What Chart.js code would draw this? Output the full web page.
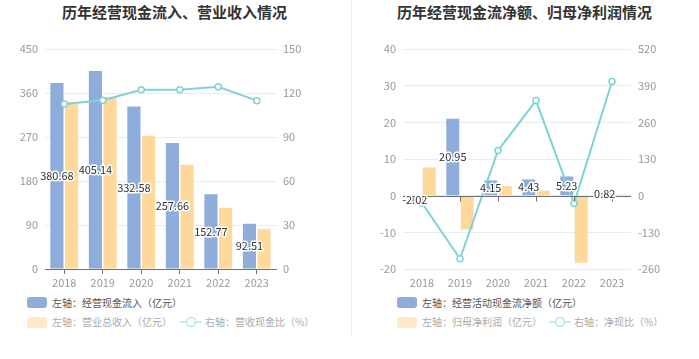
<!DOCTYPE html>
<html>
<head>
<meta charset="utf-8">
<script src="https://cdn.jsdelivr.net/npm/chart.js@4/dist/chart.umd.min.js"></script>
<style>
  body { margin: 0; background: #fff; font-family: "Noto Sans CJK SC", sans-serif; }
  #wrap { position: relative; width: 699px; height: 359px; overflow: hidden; }
  canvas { position: absolute; top: 0; }
  .title { position: absolute; top: 1px; width: 349px; text-align: center; font-size: 15px; font-weight: bold; color: #333; }
  .divider { position: absolute; left: 351px; top: 0; width: 1px; height: 336px; background: #f0f0f0; }
  .lg { position: absolute; font-size: 10px; color: #555; line-height: 14px; white-space: nowrap; }
  .lg.off { color: #aaa; }
  .box { position: absolute; width: 20px; height: 11px; border-radius: 3px; }
</style>
</head>
<body>
<div id="wrap">
  <div class="title" style="left:0">历年经营现金流入、营业收入情况</div>
  <div class="title" style="left:350px">历年经营现金流净额、归母净利润情况</div>
  <div class="divider"></div>
  <canvas id="c1" width="349" height="290" style="left:0"></canvas>
  <canvas id="c2" width="349" height="290" style="left:350px"></canvas>

  <div class="box" style="left:27px;top:297px;background:#8eaddb"></div>
  <div class="lg" style="left:52px;top:296px">左轴：经营现金流入（亿元）</div>
  <div class="box" style="left:27px;top:317px;background:#ffe9c9"></div>
  <div class="lg off" style="left:52px;top:315px">左轴：营业总收入（亿元）</div>
  <svg style="position:absolute;left:180px;top:316px" width="22" height="12"><line x1="0" y1="6" x2="22" y2="6" stroke="#b4e6e9" stroke-width="1.5"/><circle cx="11" cy="6" r="4.5" fill="#fff" stroke="#b4e6e9" stroke-width="1.5"/></svg>
  <div class="lg off" style="left:205px;top:315px">右轴：营收现金比（%）</div>

  <div class="box" style="left:397px;top:297px;background:#8eaddb"></div>
  <div class="lg" style="left:422px;top:296px">左轴：经营活动现金流净额（亿元）</div>
  <div class="box" style="left:397px;top:317px;background:#ffe9c9"></div>
  <div class="lg off" style="left:422px;top:315px">左轴：归母净利润（亿元）</div>
  <svg style="position:absolute;left:549px;top:316px" width="22" height="12"><line x1="0" y1="6" x2="22" y2="6" stroke="#b4e6e9" stroke-width="1.5"/><circle cx="11" cy="6" r="4.5" fill="#fff" stroke="#b4e6e9" stroke-width="1.5"/></svg>
  <div class="lg off" style="left:574px;top:315px">右轴：净现比（%）</div>
</div>
<script>
// data
var years = ['2018', '2019', '2020', '2021', '2022', '2023'];
var cashInflow = [380.68, 405.14, 332.58, 257.66, 152.77, 92.51];
var revenue = [340.8, 351.8, 272.6, 213, 125, 81.8];
var cashRatio = [112.5, 115, 122.2, 122.3, 124.2, 114.8];

var opCashNet = [-2.02, 20.95, 4.15, 4.43, 5.23, 0.82];
var netProfit = [7.7, -9.2, 2.6, 1.4, -18.3, 0.3];
var netCashRatio = [-26, -224, 160, 337, -28, 405];

var BLUE = '#8eaddb', YELLOW = '#ffd89b', CYAN = '#7dd3d8';
var GRID = '#e6ebf5', TICK = '#999', AXIS = '#6e7079';

Chart.defaults.font.family = '"Noto Sans CJK SC", sans-serif';
Chart.defaults.font.size = 11;

// value labels in the middle of the first (blue) bar series
var barLabels = {
    id: 'barLabels',
    afterDatasetsDraw: function(chart){
        var ctx = chart.ctx;
        var meta = chart.getDatasetMeta(0);
        var vals = chart.data.datasets[0].data;
        ctx.save();
        ctx.font = '11px "Noto Sans CJK SC", sans-serif';
        ctx.textAlign = 'center';
        ctx.textBaseline = 'middle';
        ctx.lineJoin = 'round';
        ctx.lineWidth = 3;
        ctx.strokeStyle = '#fff';
        ctx.fillStyle = '#333';
        meta.data.forEach(function(bar, i){
            var y = (bar.y + bar.base) / 2;
            var txt = vals[i].toFixed(2);
            ctx.strokeText(txt, bar.x, y);
            ctx.fillText(txt, bar.x, y);
        });
        ctx.restore();
    }
};

// axis line at zero for the second chart
var zeroLine = {
    id: 'zeroLine',
    afterDatasetsDraw: function(chart){
        var ctx = chart.ctx, area = chart.chartArea;
        var y0 = Math.round(chart.scales.y.getPixelForValue(0)) + 0.5;
        ctx.save();
        ctx.strokeStyle = AXIS;
        ctx.lineWidth = 1;
        ctx.beginPath();
        ctx.moveTo(area.left, y0);
        ctx.lineTo(area.right, y0);
        chart.scales.x.ticks.forEach(function(t, i){
            var x = Math.round(chart.scales.x.getPixelForTick(i)) + 0.5;
            ctx.moveTo(x, y0);
            ctx.lineTo(x, y0 + 5);
        });
        ctx.stroke();
        ctx.restore();
    }
};

function makeChart(id, bars1, bars2, line, yOpts, y1Opts, widths, zero){
    var plugins = zero ? [zeroLine, barLabels] : [barLabels];
    return new Chart(document.getElementById(id), {
        type: 'bar',
        data: {
            labels: years,
            datasets: [
                { data: bars1, backgroundColor: BLUE, yAxisID: 'y', order: 2,
                  categoryPercentage: 0.76, barPercentage: 0.9 },
                { data: bars2, backgroundColor: YELLOW, yAxisID: 'y', order: 3,
                  categoryPercentage: 0.76, barPercentage: 0.9 },
                { type: 'line', data: line, yAxisID: 'y1', order: 1,
                  borderColor: CYAN, borderWidth: 2, pointRadius: 3,
                  pointBackgroundColor: '#fff', pointBorderColor: CYAN, pointBorderWidth: 1.5,
                  tension: 0 }
            ]
        },
        options: {
            responsive: false,
            animation: false,
            layout: { padding: { top: 49, left: 0, right: 0, bottom: 0 } },
            plugins: { legend: { display: false }, tooltip: { enabled: false } },
            scales: {
                x: {
                    offset: true,
                    grid: { display: true, drawOnChartArea: false, drawTicks: true, tickLength: 5,
                            offset: false, color: zero ? 'rgba(0,0,0,0)' : AXIS },
                    border: { display: !zero, color: AXIS },
                    ticks: { color: TICK, padding: 2 },
                    afterFit: function(s){ s.height = 21; }
                },
                y: {
                    position: 'left',
                    min: yOpts.min, max: yOpts.max,
                    grid: { color: GRID, drawTicks: false },
                    border: { display: false },
                    ticks: { stepSize: yOpts.step, color: TICK, padding: 7 },
                    afterFit: function(s){ s.width = widths[0]; }
                },
                y1: {
                    position: 'right',
                    min: y1Opts.min, max: y1Opts.max,
                    grid: { drawOnChartArea: false, drawTicks: false },
                    border: { display: false },
                    ticks: { stepSize: y1Opts.step, color: TICK, padding: 7 },
                    afterFit: function(s){ s.width = widths[1]; }
                }
            }
        },
        plugins: plugins
    });
}

makeChart('c1', cashInflow, revenue, cashRatio,
    { min: 0, max: 450, step: 90 }, { min: 0, max: 150, step: 30 }, [45, 73], false);
makeChart('c2', opCashNet, netProfit, netCashRatio,
    { min: -20, max: 40, step: 10 }, { min: -260, max: 520, step: 130 }, [53, 68], true);
</script>
</body>
</html>
